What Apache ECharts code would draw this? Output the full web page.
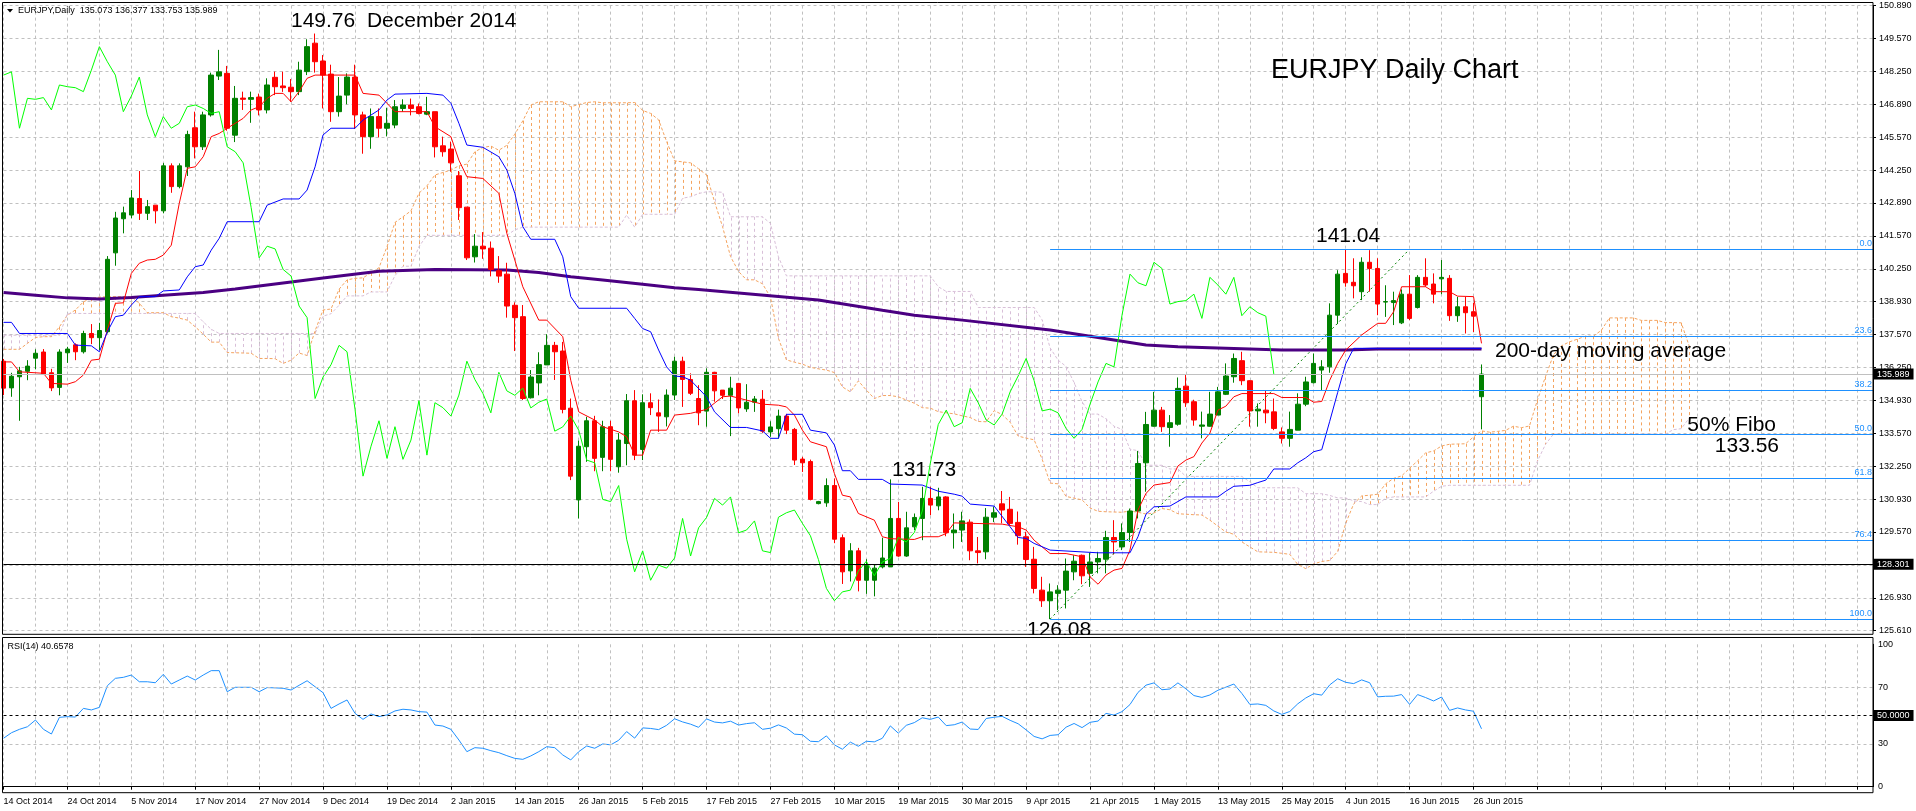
<!DOCTYPE html>
<html><head><meta charset="utf-8">
<script src="https://cdn.jsdelivr.net/npm/echarts@6.0.0/dist/echarts.min.js"></script>
<style>html,body{margin:0;padding:0;background:#fff;overflow:hidden}#chart{width:1916px;height:811px}</style>
</head><body><div id="chart"></div>
<script>
// ---------- data ----------
const dateLabels = ['14 Oct 2014','24 Oct 2014','5 Nov 2014','17 Nov 2014','27 Nov 2014','9 Dec 2014','19 Dec 2014','2 Jan 2015','14 Jan 2015','26 Jan 2015','5 Feb 2015','17 Feb 2015','27 Feb 2015','10 Mar 2015','19 Mar 2015','30 Mar 2015','9 Apr 2015','21 Apr 2015','1 May 2015','13 May 2015','25 May 2015','4 Jun 2015','16 Jun 2015','26 Jun 2015'];

const opens = [
136.51,135.43,135.88,136.10,136.63,136.88,136.04,135.45,136.85,137.17,
136.89,137.63,137.46,137.70,140.89,142.27,142.42,143.09,142.49,142.82,
142.59,144.41,143.57,144.37,145.95,145.18,146.47,148.04,148.15,145.65,
147.15,147.10,147.19,146.67,147.99,147.64,147.59,147.41,148.22,149.37,
148.65,148.12,146.60,147.27,148.00,146.47,145.59,146.40,145.93,146.06,
146.73,146.87,146.80,146.50,146.60,145.22,145.09,144.01,142.74,140.73,
141.16,141.08,140.17,140.03,138.77,138.31,135.03,135.63,136.36,137.15,
136.92,134.61,130.90,133.05,134.10,132.62,133.86,132.24,133.18,134.91,
132.94,134.83,134.42,134.26,135.14,136.51,135.77,135.00,134.49,136.06,
135.34,135.13,135.61,134.58,134.85,134.97,133.65,133.78,134.29,133.75,
132.55,132.45,130.75,130.78,131.48,129.37,128.03,128.84,127.65,127.65,
128.19,128.19,130.15,128.63,129.81,130.15,130.96,130.66,131.02,129.57,
129.68,130.00,128.84,128.80,130.20,130.74,130.52,129.99,129.41,128.50,
127.25,126.82,127.12,127.25,127.99,128.66,127.93,128.39,128.50,129.38,
129.00,129.58,130.45,132.40,133.88,134.53,133.83,133.96,135.50,134.87,
133.88,133.88,134.33,135.17,135.88,136.53,135.72,134.50,134.53,134.46,
133.65,133.39,133.72,134.77,135.64,136.15,136.28,138.37,140.06,139.70,
139.32,140.51,140.26,138.90,138.88,138.06,139.22,138.68,139.90,139.63,
139.84,139.86,138.35,138.71,138.51,135.073];
const highs = [
136.60,136.04,136.28,136.55,136.99,137.00,136.20,136.99,137.09,137.23,
137.74,138.01,138.06,140.76,142.55,142.76,143.43,144.20,143.03,142.82,
144.52,144.51,144.51,145.83,146.60,146.60,148.18,149.10,148.45,147.64,
147.41,147.41,147.33,147.95,148.22,148.22,147.92,148.62,149.53,149.76,
148.89,148.50,148.00,148.15,148.50,146.60,146.73,146.73,146.76,147.07,
147.10,147.13,146.93,147.20,146.60,145.59,145.39,144.20,142.74,141.65,
141.73,141.35,140.76,140.49,138.89,138.78,136.15,136.87,137.60,137.29,
137.29,135.00,133.30,134.26,134.30,134.10,134.10,133.60,135.18,135.34,
135.17,135.21,134.96,135.37,136.69,136.69,136.02,135.54,136.22,136.08,
135.34,135.88,135.63,135.58,135.10,135.34,134.08,134.55,134.38,133.81,
132.64,132.53,130.86,131.77,131.77,129.50,129.15,128.96,128.50,128.30,
129.37,131.73,130.82,130.42,130.35,131.43,131.43,131.39,131.05,130.35,
130.42,130.11,129.40,130.57,130.63,131.26,131.02,130.43,129.61,129.00,
127.79,127.52,127.45,128.53,128.66,128.69,128.76,128.80,129.65,130.08,
129.95,130.55,132.88,134.46,135.27,134.66,134.33,135.85,135.95,134.95,
134.47,135.27,135.47,136.42,136.82,136.89,135.74,134.80,135.34,135.00,
133.83,134.47,135.21,135.88,136.82,136.55,138.85,140.19,141.04,140.67,
140.71,141.00,140.67,139.58,139.32,139.41,139.99,139.99,140.67,140.06,
140.60,139.99,139.11,139.11,138.87,136.377];
const lows = [
135.14,135.07,134.10,135.74,136.18,135.95,135.30,135.13,136.44,136.55,
136.82,137.20,136.96,137.63,140.37,141.68,142.29,142.22,142.22,142.08,
142.49,143.32,143.50,144.00,144.71,145.05,146.40,147.88,145.83,145.37,
146.67,146.15,146.45,146.53,147.27,147.40,147.00,147.27,148.08,148.18,
146.73,146.19,146.40,146.90,145.90,144.90,145.10,145.56,145.60,145.93,
146.60,146.45,146.49,146.46,144.75,144.78,144.17,142.22,140.60,140.50,
140.65,139.94,139.68,138.27,136.92,134.94,135.00,135.13,136.36,135.75,
134.40,131.70,130.15,132.44,132.06,132.06,132.06,132.00,132.30,132.51,
132.51,134.33,133.65,133.87,134.94,134.66,135.14,133.92,133.86,134.87,
134.98,133.48,134.40,134.46,134.46,133.61,133.45,133.38,133.56,132.31,
132.03,130.88,130.72,130.62,129.15,127.50,127.60,127.20,127.10,127.00,
128.13,128.19,128.60,128.60,129.68,129.27,130.28,130.48,129.43,128.93,
129.20,128.46,128.33,128.50,130.00,129.95,129.88,129.09,128.19,127.12,
126.57,126.08,126.44,126.51,127.65,127.49,127.38,127.93,127.93,128.69,
128.87,129.20,130.15,131.23,133.86,133.65,133.05,133.90,134.66,133.90,
133.39,133.86,134.33,135.14,135.64,135.54,133.86,133.86,134.00,133.72,
133.18,133.05,133.72,134.69,135.61,135.34,136.04,138.01,139.52,139.05,
138.98,139.32,138.37,138.30,137.97,138.01,138.17,138.64,139.52,138.85,
139.22,138.14,138.10,137.63,137.69,133.753];
const closes = [
135.42,135.90,136.12,136.31,136.83,135.99,135.43,136.88,137.00,136.89,
137.63,137.46,137.75,140.63,142.30,142.51,143.11,142.49,142.76,142.59,
144.41,143.57,144.41,145.68,145.18,146.47,148.08,148.21,145.93,147.14,
147.10,147.17,146.67,147.68,147.61,147.57,147.41,148.28,149.23,148.62,
148.08,146.60,147.23,148.00,146.47,145.59,146.40,145.93,146.13,146.80,
146.87,146.73,146.53,146.60,145.18,144.98,144.53,142.72,140.69,141.16,
141.05,140.22,139.95,138.74,138.27,135.00,135.87,136.37,137.15,136.89,
134.56,131.86,133.07,134.10,132.58,133.86,132.54,133.32,134.91,132.71,
134.83,134.63,134.29,135.14,136.51,135.77,135.21,134.42,136.06,135.31,
135.13,135.42,134.62,134.85,134.98,133.68,133.85,134.29,133.72,132.51,
132.40,130.92,130.83,131.48,129.31,127.99,128.84,127.65,128.26,128.14,
128.55,130.15,128.63,129.77,130.19,130.96,130.69,131.02,129.57,129.68,
130.05,128.84,128.77,130.20,130.38,130.49,129.95,129.45,128.49,127.32,
126.82,127.18,127.25,128.02,128.42,127.83,128.39,128.53,129.38,129.20,
129.58,130.45,132.37,133.95,134.53,133.86,134.02,135.41,134.83,134.13,
133.93,134.37,135.27,135.91,136.62,135.72,134.50,134.57,134.42,133.79,
133.39,133.75,134.77,135.67,136.42,136.28,138.37,140.03,139.68,139.56,
140.51,140.26,138.82,138.92,138.96,139.22,138.24,139.90,139.59,139.22,
139.90,138.35,138.71,138.47,138.33,135.989];

// Ichimoku Tenkan-sen (red) vertices [bar, price]
const tenkan = [[0,136.48],[1,136.48],[2,136.08],[5,136.02],[6,135.61],[8,135.58],[9,135.68],[10,135.95],[11,136.55],[12,136.59],[13,137.77],[14,138.85],[15,138.87],[16,140.06],[17,140.47],[18,140.6],[19,140.63],[20,140.8],[21,141.2],[22,142.89],[23,144.31],[24,144.37],[25,144.78],[26,145.59],[27,145.72],[28,145.93],[29,146.13],[30,146.33],[31,146.67],[32,146.8],[33,147.14],[34,147.34],[35,147.34],[36,147.0],[37,147.41],[38,147.95],[39,148.08],[44,148.08],[45,147.34],[47,147.27],[48,146.94],[49,146.6],[53,146.6],[54,145.99],[56,145.59],[57,144.64],[58,143.97],[60,143.9],[62,143.3],[63,141.68],[65,139.52],[67,138.17],[68,138.17],[70,137.5],[71,135.74],[72,134.46],[74,134.13],[75,133.86],[77,133.65],[78,133.45],[79,132.71],[80,132.71],[81,133.72],[83,133.72],[84,134.33],[86,134.4],[88,134.56],[90,135.07],[91,135.1],[95,134.77],[97,134.73],[98,134.66],[99,134.33],[100,133.72],[101,133.25],[103,133.05],[104,131.97],[105,131.09],[106,131.02],[107,130.35],[109,130.08],[110,129.41],[111,129.33],[114,129.3],[115,129.41],[117,129.41],[118,129.54],[119,129.97],[125,129.92],[127,129.81],[128,129.68],[129,129.27],[131,128.73],[133,128.73],[135,128.6],[136,127.79],[137,127.49],[138,127.86],[139,128.06],[140,128.13],[141,128.87],[142,130.49],[143,131.16],[144,131.5],[146,131.6],[147,132.27],[148,132.51],[149,132.65],[150,133.2],[151,133.6],[152,134.53],[153,134.69],[154,135.07],[155,135.2],[159,135.2],[160,135.04],[163,135.04],[164,134.85],[165,134.88],[166,135.74],[167,136.42],[168,136.96],[170,137.57],[172,138.04],[173,138.04],[174,138.51],[175,139.52],[178,139.52],[179,139.32],[181,139.32],[182,139.14],[184,139.12],[185,137.23]];

// Ichimoku Kijun-sen (blue) vertices [bar, price]
const kijun = [[0,138.08],[1,138.08],[2,137.63],[8,137.63],[9,137.16],[11,137.13],[12,136.89],[13,137.7],[14,138.31],[15,138.37],[16,138.78],[17,139.12],[19,139.12],[20,139.35],[22,139.39],[23,139.92],[24,140.33],[25,140.4],[26,141.0],[27,141.48],[28,142.15],[32,142.15],[33,142.82],[35,143.07],[37,143.07],[38,143.43],[39,144.37],[40,145.66],[41,145.93],[44,145.93],[45,146.26],[47,146.67],[48,147.07],[49,147.31],[53,147.34],[55,147.27],[56,146.94],[57,146.13],[58,145.25],[60,145.16],[62,144.78],[63,144.24],[64,143.3],[65,141.95],[66,141.44],[69,141.44],[70,140.73],[71,139.12],[72,138.65],[78,138.65],[79,138.24],[80,137.83],[81,137.7],[82,136.96],[83,136.28],[84,135.91],[85,135.88],[86,135.74],[88,135.07],[89,134.46],[91,133.83],[93,133.83],[95,133.69],[96,133.39],[97,133.39],[98,134.36],[100,134.36],[101,133.72],[103,133.61],[104,133.12],[105,132.08],[106,132.08],[107,131.73],[110,131.73],[111,131.54],[115,131.5],[117,131.25],[119,131.13],[120,131.05],[121,130.73],[124,130.65],[126,129.81],[127,129.38],[128,129.34],[129,129.14],[131,128.87],[137,128.76],[141,128.76],[142,129.41],[143,130.32],[144,130.62],[146,130.65],[148,131.02],[152,131.02],[153,131.25],[154,131.45],[156,131.49],[157,131.6],[158,131.7],[159,132.15],[161,132.15],[162,132.4],[163,132.6],[164,132.85],[165,132.93],[166,134.08],[167,135.25],[168,136.4],[169,137.03],[185,137.03]];

// Senkou Span A (sandy brown) per bar 0..211, plotted 26 bars ahead
const senkouA = [
136.99,136.99,136.99,137.23,137.47,137.5,137.5,137.9,138.37,138.58,
138.91,139.05,139.1,139.12,139.12,139.12,139.12,138.85,138.47,138.47,
138.47,138.31,138.25,138.17,137.9,137.6,137.28,137.28,136.86,136.85,
136.84,136.83,136.62,136.62,136.61,136.42,136.55,136.84,136.74,137.74,
138.58,138.62,139.42,139.8,139.86,139.88,140.08,140.29,141.14,142.12,
142.35,142.59,143.3,143.6,144.04,144.14,144.24,144.41,144.48,144.98,
145.15,145.21,145.04,145.24,145.69,146.23,146.87,147.0,147.0,147.0,
147.0,146.8,146.89,146.97,147.0,146.96,146.96,146.96,146.96,146.97,
146.65,146.53,146.27,145.39,144.61,144.57,144.53,144.29,144.04,142.96,
141.95,140.74,140.14,139.8,139.8,139.64,139.1,137.43,136.56,136.47,
136.39,136.26,136.2,136.15,136.05,135.47,135.27,135.71,135.34,135.0,
135.12,135.12,135.07,134.94,134.81,134.63,134.61,134.47,134.42,134.38,
134.3,134.23,134.07,134.06,134.51,134.35,134.04,133.48,133.4,133.33,
132.55,131.58,131.55,131.04,130.97,130.9,130.57,130.44,130.42,130.41,
130.4,130.45,130.4,130.33,130.37,130.55,130.5,130.34,130.32,130.3,
130.29,130.08,129.84,129.6,129.51,129.2,129.0,128.8,128.79,128.78,
128.74,128.7,128.29,128.12,128.31,128.41,128.45,128.82,129.95,130.74,
131.06,131.09,131.13,131.55,131.77,131.87,132.18,132.48,132.8,132.88,
133.08,133.15,133.16,133.17,133.45,133.69,133.64,133.67,133.71,133.88,
133.82,133.89,134.94,135.88,136.76,137.13,137.29,137.4,137.52,137.52,
137.76,138.26,138.26,138.26,138.26,138.16,138.16,138.16,138.07,138.07,
138.06,137.12];
// Senkou Span B (thistle) per bar 0..211
const senkouB = [
137.56,137.56,137.56,137.56,137.56,137.56,137.56,137.56,138.44,138.44,
138.44,138.44,138.44,138.44,138.44,138.44,138.44,138.44,138.44,138.44,
138.44,138.44,138.44,138.44,138.44,138.1,137.8,137.63,137.63,137.63,
137.63,137.63,137.63,137.63,137.63,137.63,137.63,137.63,137.63,137.63,
138.33,138.43,138.77,139.15,139.15,139.15,139.31,139.31,139.31,139.97,
140.35,140.35,141.14,141.6,141.6,141.6,141.6,141.6,141.6,141.6,
141.6,141.6,141.6,141.6,141.82,141.93,141.93,141.93,141.93,141.93,
141.93,141.93,141.93,141.93,141.93,141.93,141.93,141.93,142.42,141.93,
142.45,142.45,142.45,142.45,142.45,143.1,143.16,143.29,143.36,143.36,
143.34,142.35,142.35,142.35,142.35,142.35,142.08,140.73,139.96,139.96,
139.96,139.96,139.96,139.96,139.96,139.96,139.96,139.96,139.96,139.96,
139.96,139.96,139.96,139.96,139.96,139.96,139.96,139.52,139.33,139.33,
139.33,139.33,138.68,138.68,138.68,138.68,138.68,138.68,138.68,138.68,
138.18,137.05,136.55,136.3,135.65,134.87,134.37,134.37,134.18,133.88,
133.75,132.95,132.89,132.3,132.3,132.3,132.15,132.15,131.85,131.85,
131.85,131.85,131.85,131.85,131.85,131.85,131.63,131.39,131.39,131.39,
131.39,131.39,131.39,131.15,131.15,131.15,131.08,130.98,130.98,130.86,
130.83,130.71,130.71,130.97,131.02,131.02,131.02,131.02,131.02,131.25,
131.45,131.49,131.49,131.49,131.49,131.49,131.49,131.49,131.49,131.49,
131.49,131.49,132.47,133.14,133.56,133.56,133.56,133.56,133.56,133.56,
133.56,133.56,133.56,133.56,133.56,133.56,133.56,133.56,133.56,133.74,
133.78,134.21];

// 200-day moving average (indigo) vertices [bar, price]
const ma200 = [[0,139.29],[4,139.18],[8,139.07],[12,139.02],[16,139.09],[20,139.18],[25,139.29],[29,139.43],[32,139.55],[40,139.87],[47,140.15],[54,140.22],[63,140.2],[67,140.1],[71,139.92],[75,139.79],[80,139.62],[84,139.48],[87,139.41],[102,138.98],[110,138.57],[114,138.37],[120,138.17],[131,137.77],[143,137.16],[147,137.09],[156,137.0],[160,136.96],[168,136.96],[172,137.0],[185,137.0]];

// RSI(14) per bar
const rsi14 = [
34.0,37.9,40.3,42.1,46.8,40.3,37.0,48.7,49.2,48.9,
55.0,53.9,55.7,70.9,76.1,76.8,78.4,73.7,73.7,73.0,
78.9,72.1,74.9,77.7,74.9,78.4,81.5,81.5,66.7,69.8,
69.8,69.8,66.7,69.6,69.4,69.1,67.9,71.2,74.4,70.2,
66.0,55.0,58.1,60.9,51.5,47.3,51.1,49.2,50.4,53.2,
54.4,53.9,52.7,52.4,43.3,42.6,40.3,32.8,24.6,27.4,
27.0,25.3,23.9,21.8,19.9,19.2,21.6,24.6,28.1,27.4,
22.3,18.8,24.6,28.6,27.0,30.0,29.4,32.6,38.7,34.1,
41.3,40.9,40.1,43.1,47.7,45.5,43.9,41.7,47.6,45.4,
44.8,46.0,43.3,44.3,44.9,40.3,41.1,43.4,41.2,36.9,
36.5,31.9,31.6,35.7,29.4,26.3,31.3,28.4,31.9,31.5,
34.0,42.7,37.6,43.1,45.0,48.4,47.3,48.9,42.9,43.5,
45.4,40.5,40.2,47.9,48.8,49.4,46.6,44.2,39.9,35.3,
33.6,36.0,36.5,41.8,44.4,41.5,45.2,46.1,51.5,50.3,
52.7,57.7,66.2,71.3,72.9,68.1,68.6,72.9,68.7,64.0,
62.7,64.4,67.7,69.9,72.1,65.5,57.8,58.1,57.1,53.2,
50.8,52.8,58.2,62.3,65.3,64.3,71.5,75.8,73.3,72.4,
75.0,73.0,63.1,63.5,63.6,64.7,57.8,64.7,62.6,60.2,
63.0,53.6,55.3,53.9,53.0,40.6578];

const priceTickLabels = ['125.610','126.930','128.250','129.570','130.930','132.250','133.570','134.930','136.250','137.570','138.930','140.250','141.570','142.890','144.250','145.570','146.890','148.250','149.570','150.890'];
const rsiTickLabels = [0, 30, 70, 100];
const fiboLevels = [141.04, 137.51, 135.33, 133.56, 131.79, 129.28, 126.08];
const fiboLabels = ['0.0','23.6','38.2','50.0','61.8','76.4','100.0'];
const fiboStartBar = 131;
const fiboTrend = [[131,126.08],[176,141.04]];
const lastBid = 135.989;
const hLine = 128.301;

// ---------- chart ----------
const N_CAT = 235;
const categories = [];
for (let i = 0; i < N_CAT; i++) categories.push(i % 8 === 0 && dateLabels[i / 8] ? dateLabels[i / 8] : '_' + i);
const PRICE_MIN = 125.61, PRICE_MAX = 150.89, PRICE_STEP = (PRICE_MAX - PRICE_MIN) / 19;
const FONT = '"Liberation Sans", Arial, sans-serif';
const GRID_DASH = {color: '#c0c0c0', type: [3, 3], width: 1};

const candleData = opens.map((o, i) => [o, closes[i], lows[i], highs[i]]);
const chikou = closes.slice(26).map((c, i) => [i, c]);
const cloudData = senkouA.map((a, i) => [i, a, senkouB[i]]);
const lastLabel = 'EURJPY,Daily  ' + [opens, highs, lows, closes].map(a => a[a.length - 1].toFixed(3)).join(' ');

const chart = echarts.init(document.getElementById('chart'));
const boxLabel = (txt) => ({show: true, position: 'end', formatter: txt, backgroundColor: '#000', color: '#fff', fontSize: 9, fontFamily: FONT, padding: [1, 4, 1, 3], distance: 1});

const fiboMarks = fiboLevels.map((lv, k) => [
  {coord: [fiboStartBar, lv], lineStyle: {color: '#1E90FF', type: 'solid', width: 1},
   label: {show: true, position: 'insideEndTop', formatter: fiboLabels[k], color: '#1E90FF', fontSize: 9, fontFamily: FONT, distance: 1}},
  {coord: [N_CAT - 1, lv]}
]);

const option = {
  animation: false,
  backgroundColor: '#fff',
  textStyle: {fontFamily: FONT},
  grid: [
    {left: 3.5, width: 1869.5, top: 5.6, height: 625.1},
    {left: 3.5, width: 1869.5, top: 644.3, height: 142.4}
  ],
  xAxis: [
    {type: 'category', gridIndex: 0, data: categories, boundaryGap: false,
     axisLine: {show: false}, axisTick: {show: false}, axisLabel: {show: false},
     splitLine: {show: true, interval: 3, lineStyle: GRID_DASH}},
    {type: 'category', gridIndex: 1, data: categories, boundaryGap: false, offset: 6,
     axisLine: {show: true, lineStyle: {color: '#000', width: 1}},
     axisTick: {show: true, interval: 7, length: 3, lineStyle: {color: '#000'}},
     axisLabel: {show: true, interval: 7, align: 'left', margin: 4, fontSize: 9, color: '#000', fontFamily: FONT,
                 formatter: v => v.charAt(0) === '_' ? '' : v},
     splitLine: {show: true, interval: 3, lineStyle: GRID_DASH}}
  ],
  yAxis: [
    {type: 'value', gridIndex: 0, position: 'right', min: PRICE_MIN, max: PRICE_MAX, interval: PRICE_STEP,
     axisLine: {show: true, lineStyle: {color: '#000'}},
     axisTick: {show: true, length: 3, lineStyle: {color: '#000'}},
     axisLabel: {margin: 6, fontSize: 9, color: '#000', fontFamily: FONT,
                 formatter: v => { const k = Math.round((v - PRICE_MIN) / PRICE_STEP); return priceTickLabels[k] || ''; }},
     splitLine: {show: true, lineStyle: GRID_DASH}},
    {type: 'value', gridIndex: 1, position: 'right', min: 0, max: 100, interval: 10,
     axisLine: {show: true, lineStyle: {color: '#000'}},
     axisTick: {show: false},
     axisLabel: {margin: 5, fontSize: 9, color: '#000', fontFamily: FONT,
                 formatter: v => rsiTickLabels.indexOf(v) >= 0 ? String(v) : ''},
     splitLine: {show: false}}
  ],
  series: [
    {name: 'cloud', type: 'custom', xAxisIndex: 0, yAxisIndex: 0, data: cloudData, clip: true, silent: true, z: 1,
     encode: {x: 0, y: [1, 2]},
     renderItem: function (params, api) {
       const i = api.value(0), a = api.value(1), b = api.value(2);
       const p1 = api.coord([i, a]), p2 = api.coord([i, b]);
       const x = Math.round(p1[0]) + 0.5;
       return {type: 'line', shape: {x1: x, y1: p1[1], x2: x, y2: p2[1]},
               style: {stroke: a >= b ? '#F4A460' : '#D8BFD8', lineWidth: 1, lineDash: [3, 3]}};
     }},
    {name: 'Senkou A', type: 'line', xAxisIndex: 0, yAxisIndex: 0, data: senkouA.map((v, i) => [i, v]), symbol: 'none', z: 1,
     lineStyle: {color: '#F4A460', width: 1, type: [3, 2]}},
    {name: 'Senkou B', type: 'line', xAxisIndex: 0, yAxisIndex: 0, data: senkouB.map((v, i) => [i, v]), symbol: 'none', z: 1,
     lineStyle: {color: '#D8BFD8', width: 1, type: [3, 2]}},
    {name: 'MA200', type: 'line', xAxisIndex: 0, yAxisIndex: 0, data: ma200, symbol: 'none', z: 2,
     lineStyle: {color: '#4B0082', width: 3}},
    {name: 'EURJPY', type: 'candlestick', xAxisIndex: 0, yAxisIndex: 0, data: candleData, barWidth: 5, z: 3,
     itemStyle: {color: '#008000', color0: '#FF0000', borderColor: '#008000', borderColor0: '#FF0000', borderWidth: 1},
     markLine: {symbol: ['none', 'none'], silent: true, animation: false,
       data: [
         {yAxis: lastBid, lineStyle: {color: '#C0C0C0', type: 'solid', width: 1}, label: boxLabel(lastBid.toFixed(3))},
         {yAxis: hLine, lineStyle: {color: '#000', type: 'solid', width: 1}, label: boxLabel(hLine.toFixed(3))}
       ].concat(fiboMarks)
     }},
    {name: 'Tenkan', type: 'line', xAxisIndex: 0, yAxisIndex: 0, data: tenkan, symbol: 'none', z: 4,
     lineStyle: {color: '#FF0000', width: 1}},
    {name: 'Kijun', type: 'line', xAxisIndex: 0, yAxisIndex: 0, data: kijun, symbol: 'none', z: 4,
     lineStyle: {color: '#0000FF', width: 1}},
    {name: 'Chikou', type: 'line', xAxisIndex: 0, yAxisIndex: 0, data: chikou, symbol: 'none', z: 4,
     lineStyle: {color: '#00FF00', width: 1}},
    {name: 'Fibo trend', type: 'line', xAxisIndex: 0, yAxisIndex: 0, data: fiboTrend, symbol: 'none', z: 4,
     lineStyle: {color: '#008000', width: 1, type: [2, 3]}},
    {name: 'RSI', type: 'line', xAxisIndex: 1, yAxisIndex: 1, data: rsi14.map((v, i) => [i, v]), symbol: 'none', z: 3,
     lineStyle: {color: '#1E90FF', width: 1},
     markLine: {symbol: ['none', 'none'], silent: true, animation: false,
       data: [
         {yAxis: 70, lineStyle: {color: '#c0c0c0', type: [3, 3], width: 1}, label: {show: false}},
         {yAxis: 30, lineStyle: {color: '#c0c0c0', type: [3, 3], width: 1}, label: {show: false}},
         {yAxis: 50, lineStyle: {color: '#000', type: [3, 3], width: 1}, label: boxLabel('50.0000')}
       ]}}
  ],
  graphic: [
    {type: 'text', x: 291, y: 21, z: 50, style: {text: '149.76  December 2014', font: '21px ' + FONT, fill: '#000', verticalAlign: 'middle'}},
    {type: 'text', x: 1271, y: 71, z: 50, style: {text: 'EURJPY Daily Chart', font: '27px ' + FONT, fill: '#000', verticalAlign: 'middle'}},
    {type: 'text', x: 1316, y: 236.5, z: 50, style: {text: '141.04', font: '21px ' + FONT, fill: '#000', verticalAlign: 'middle'}},
    {type: 'text', x: 892, y: 470, z: 50, style: {text: '131.73', font: '21px ' + FONT, fill: '#000', verticalAlign: 'middle'}},
    {type: 'text', x: 1027, y: 630, z: 50, style: {text: '126.08', font: '21px ' + FONT, fill: '#000', verticalAlign: 'middle'}},
    {type: 'text', x: 1495, y: 351, z: 50, style: {text: '200-day moving average', font: '21px ' + FONT, fill: '#000', verticalAlign: 'middle'}},
    {type: 'text', x: 1776, y: 425, z: 50, style: {text: '50% Fibo', font: '21px ' + FONT, fill: '#000', align: 'right', verticalAlign: 'middle'}},
    {type: 'text', x: 1779, y: 446, z: 50, style: {text: '133.56', font: '21px ' + FONT, fill: '#000', align: 'right', verticalAlign: 'middle'}},
    {type: 'rect', z: 99, shape: {x: 1000, y: 634.8, width: 120, height: 2.4}, style: {fill: '#fff'}, silent: true},
    {type: 'rect', z: 100, shape: {x: 2.5, y: 2.5, width: 1870.5, height: 631.8}, style: {fill: 'none', stroke: '#000', lineWidth: 1}, silent: true},
    {type: 'rect', z: 100, shape: {x: 2.5, y: 637.5, width: 1870.5, height: 155.2}, style: {fill: 'none', stroke: '#000', lineWidth: 1}, silent: true},
    {type: 'polygon', z: 100, shape: {points: [[7, 9], [13, 9], [10, 12.5]]}, style: {fill: '#000'}, silent: true},
    {type: 'text', x: 18, y: 11, z: 100, style: {text: lastLabel, font: '9px ' + FONT, fill: '#000', verticalAlign: 'middle'}},
    {type: 'text', x: 7.5, y: 647, z: 100, style: {text: 'RSI(14) ' + rsi14[rsi14.length - 1].toFixed(4), font: '9px ' + FONT, fill: '#000', verticalAlign: 'middle'}}
  ]
};
chart.setOption(option);
</script></body></html>
